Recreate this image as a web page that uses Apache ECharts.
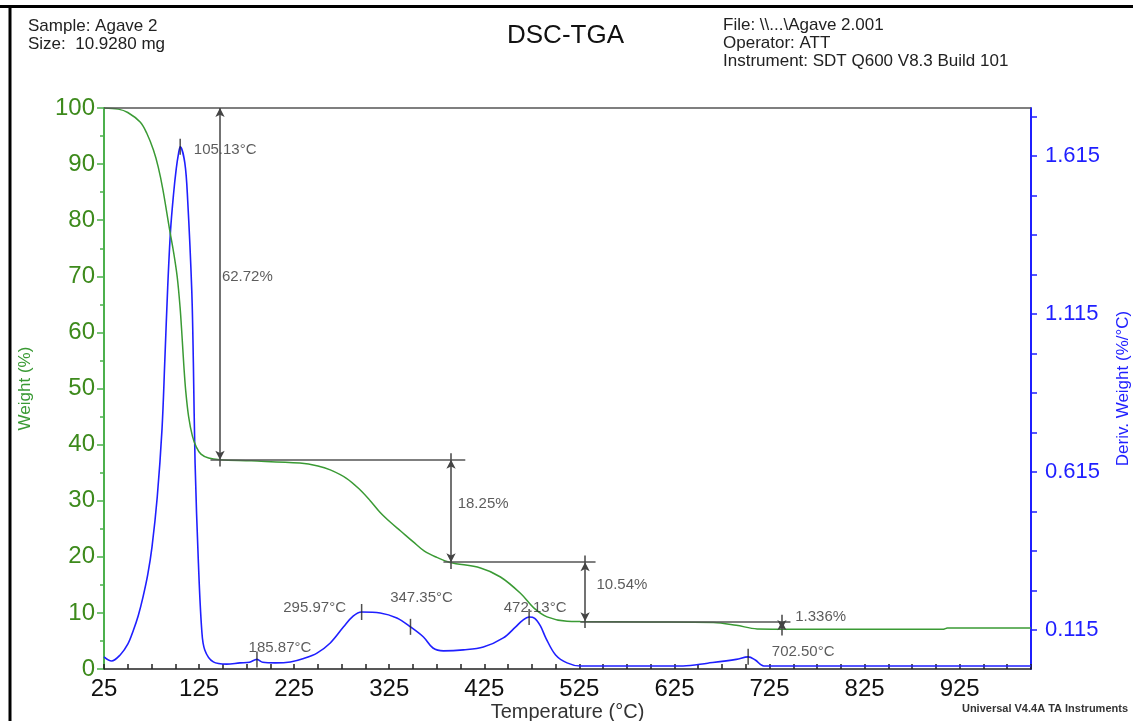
<!DOCTYPE html>
<html><head><meta charset="utf-8">
<script src="https://cdn.jsdelivr.net/npm/echarts@6/dist/echarts.min.js"></script>
<style>html,body{margin:0;padding:0;background:#fff}#c{width:1133px;height:721px}</style>
</head><body><div id="c"></div>
<script>
// ---- TGA (weight %) ----
const tgaTemp   = [25,40,50,63,70,77,82,87,94,98,102,105,107,109,111,114,118,122,127,135,147,180,231,250,263,280,294,305,315,326,337,350,362,375,389,421,442,463,477,491,512,526,600,666,690,712,750,908,912,1000];
const tgaWeight = [100,99.8,99.2,97.5,95.5,92.5,89.5,85.4,78.3,74.5,69.9,64.5,59.5,54,49.5,45,41.5,39.6,38.3,37.6,37.3,37.1,36.7,36.2,35.5,34,32,30,28,26.2,24.6,22.7,21.0,19.9,19.0,18.0,16.4,13.5,10.9,9.3,8.5,8.45,8.4,8.3,7.8,7.15,7.1,7.1,7.3,7.3];
// ---- DTG (deriv. weight %/°C) ----
const dtgTemp  = [25,33,42,50,56,61,66,71,75.5,81,86,89,92,95,98,101,103.5,105.13,110,113,117.3,119,120.8,124.3,127.8,131,140,154,168,178,185.87,192,205,221,235,249,263,277,287,295.97,315.5,333,347.35,361,371,382,403,424,445,458,465,472.13,478,484,490,500,512,526,560,600,634,660,690,702.5,710,719,760,850,1000];
const dtgDeriv = [0.03,0.017,0.036,0.07,0.115,0.16,0.219,0.29,0.378,0.536,0.75,0.97,1.2,1.38,1.49,1.575,1.625,1.644,1.593,1.476,1.19,0.96,0.643,0.327,0.115,0.052,0.014,0.007,0.011,0.013,0.022,0.013,0.011,0.014,0.025,0.042,0.074,0.125,0.159,0.172,0.169,0.153,0.125,0.093,0.058,0.049,0.052,0.061,0.09,0.125,0.145,0.156,0.152,0.128,0.088,0.036,0.011,0.001,0.001,0.001,0.001,0.01,0.022,0.03,0.02,0.001,0.001,0.001,0.001];
// ---- peak annotations ----
const peakTemp  = [105.13,185.87,295.97,347.35,472.13,702.50];
const peakDeriv = [1.644,0.022,0.172,0.125,0.156,0.030];
const peakLabel = ['105.13°C','185.87°C','295.97°C','347.35°C','472.13°C','702.50°C'];
// ---- step (weight loss) annotations ----
const stepTemp   = [147,390,531,738];
const stepUpper  = [100,37.28,19.03,8.49];
const stepLower  = [37.28,19.03,8.49,7.15];
const stepLabel  = ['62.72%','18.25%','10.54%','1.336%'];
const stepLabelTemp   = [149,397,543,752];
const stepLabelWeight = [69.9,29.4,15.0,9.3];
const shelfLevel = [100,37.28,19.03,8.49];
const shelfFrom  = [25,137,382,526];
const shelfTo    = [1000,405,542,747];
// ---- axis ticks ----
const xLabelValues = [25,125,225,325,425,525,625,725,825,925];
const xTickValues  = [25,50,75,100,125,150,175,200,225,250,275,300,325,350,375,400,425,450,475,500,525,550,575,600,625,650,675,700,725,750,775,800,825,850,875,900,925,950,975,1000];
const derivLabelValues = [0.115,0.615,1.115,1.615];
const derivTickValues  = [0.115,0.24,0.365,0.49,0.615,0.74,0.865,0.99,1.115,1.24,1.365,1.49,1.615,1.74];

const GREEN='#3a9a34', GREEN_TXT='#3d8a1c', BLUE='#1f1fff', INK='#333333';
const FONT='"Liberation Sans", Arial, sans-serif';

const chart = echarts.init(document.getElementById('c'), null, {renderer:'canvas'});

const tgaData = tgaTemp.map((t,i)=>[t,tgaWeight[i]]);
const dtgData = dtgTemp.map((t,i)=>[t,dtgDeriv[i]]);

const LS = {color:'#444',width:1.5,type:'solid'};
const markData = [];
shelfLevel.forEach((lv,i)=>{
  markData.push([{coord:[shelfFrom[i],lv],symbol:'none',lineStyle:{color:'#555',width:1.5,type:'solid'}},{coord:[shelfTo[i],lv],symbol:'none'}]);
});
stepTemp.forEach((t,i)=>{
  markData.push([{coord:[t,stepUpper[i]],symbol:'arrow',lineStyle:LS},{coord:[t,stepLower[i]],symbol:'arrow'}]);
  markData.push([{coord:[t,stepUpper[i]+1.2],symbol:'none',lineStyle:LS},{coord:[t,stepUpper[i]],symbol:'none'}]);
  markData.push([{coord:[t,stepLower[i]],symbol:'none',lineStyle:LS},{coord:[t,stepLower[i]-1.2],symbol:'none'}]);
});

const peakOffsets = [[45,3],[23,-12],[-47,-4],[11,-29],[6,-9],[55,-5]];
const peakData = peakTemp.map((t,i)=>({value:[t,peakDeriv[i]],
  label:{show:true,position:'inside',offset:peakOffsets[i],formatter:peakLabel[i]}}));
const stepLabelData = stepLabel.map((s,i)=>({value:[stepLabelTemp[i],stepLabelWeight[i]],
  label:{show:true,position:'right',distance:0,formatter:s}}));

const option = {
  backgroundColor:'#ffffff',
  animation:false,
  textStyle:{fontFamily:FONT},
  grid:{left:104,right:102,top:108,bottom:52,containLabel:false,outerBoundsMode:'none'},
  xAxis:{
    type:'value',min:25,max:1000,
    name:'Temperature (°C)',nameLocation:'middle',nameGap:33,nameMoveOverlap:false,
    nameTextStyle:{fontSize:20,color:INK,fontFamily:FONT},
    axisLine:{show:true,onZero:false,lineStyle:{color:'#222',width:1.5}},
    axisTick:{show:true,inside:true,length:5,customValues:xTickValues,lineStyle:{color:'#222',width:1.5}},
    axisLabel:{customValues:xLabelValues,fontSize:24,color:'#111',margin:8,fontFamily:FONT},
    splitLine:{show:false}
  },
  yAxis:[{
    type:'value',min:0,max:100,interval:10,position:'left',
    name:'Weight (%)',nameLocation:'middle',nameRotate:90,nameGap:70,
    nameTextStyle:{fontSize:17,color:GREEN,fontFamily:FONT},
    axisLine:{show:true,lineStyle:{color:'#4cb04c',width:2}},
    axisTick:{show:true,length:7,lineStyle:{color:'#4cb04c',width:1.5}},
    minorTick:{show:true,splitNumber:2,length:4,lineStyle:{color:'#4cb04c',width:1.5}},
    axisLabel:{fontSize:24,color:GREEN_TXT,margin:9,fontFamily:FONT},
    splitLine:{show:false}
  },{
    type:'value',min:-0.0084,max:1.767,position:'right',
    name:'Deriv. Weight (%/°C)',nameLocation:'middle',nameRotate:90,nameGap:84,
    nameTextStyle:{fontSize:17,color:BLUE,fontFamily:FONT},
    axisLine:{show:true,lineStyle:{color:BLUE,width:2}},
    axisTick:{show:true,length:6,customValues:derivTickValues,lineStyle:{color:BLUE,width:1.5}},
    axisLabel:{customValues:derivLabelValues,formatter:v=>v.toFixed(3),fontSize:22,color:BLUE,margin:14,fontFamily:FONT},
    splitLine:{show:false}
  }],
  series:[
    {type:'line',name:'Weight',yAxisIndex:0,data:tgaData,showSymbol:false,symbol:'none',
     smooth:0.35,
     lineStyle:{color:GREEN,width:1.5},z:3,
     markLine:{silent:true,symbolSize:[7,9],animation:false,label:{show:false},lineStyle:{type:'solid'},data:markData}},
    {type:'line',name:'Deriv',yAxisIndex:1,data:dtgData,showSymbol:false,symbol:'none',
     smooth:0.35,
     lineStyle:{color:BLUE,width:1.6},z:2},
    {type:'scatter',yAxisIndex:1,data:peakData,symbol:'rect',symbolSize:[1.5,16],
     itemStyle:{color:'#222'},label:{fontSize:15,color:INK,fontFamily:FONT},z:4},
    {type:'scatter',yAxisIndex:0,data:stepLabelData,symbolSize:0,
     label:{fontSize:15,color:INK,fontFamily:FONT},z:4}
  ],
  graphic:[
    {type:'line',shape:{x1:0,y1:6.5,x2:1133,y2:6.5},style:{stroke:'#000',lineWidth:3}},
    {type:'line',shape:{x1:10,y1:5,x2:10,y2:721},style:{stroke:'#000',lineWidth:3}},
    {type:'text',left:28,top:17,style:{text:'Sample: Agave 2\nSize:  10.9280 mg',lineHeight:18,fill:'#222',font:'17px '+FONT}},
    {type:'text',left:507,top:23,style:{text:'DSC-TGA',fill:'#111',font:'26px '+FONT}},
    {type:'text',left:723,top:16,style:{text:'File: \\\\...\\Agave 2.001\nOperator: ATT\nInstrument: SDT Q600 V8.3 Build 101',lineHeight:18,fill:'#222',font:'17px '+FONT}},
    {type:'text',right:5,top:703,style:{text:'Universal V4.4A TA Instruments',fill:'#333',font:'bold 11px '+FONT}}
  ]
};
chart.setOption(option);
</script></body></html>
